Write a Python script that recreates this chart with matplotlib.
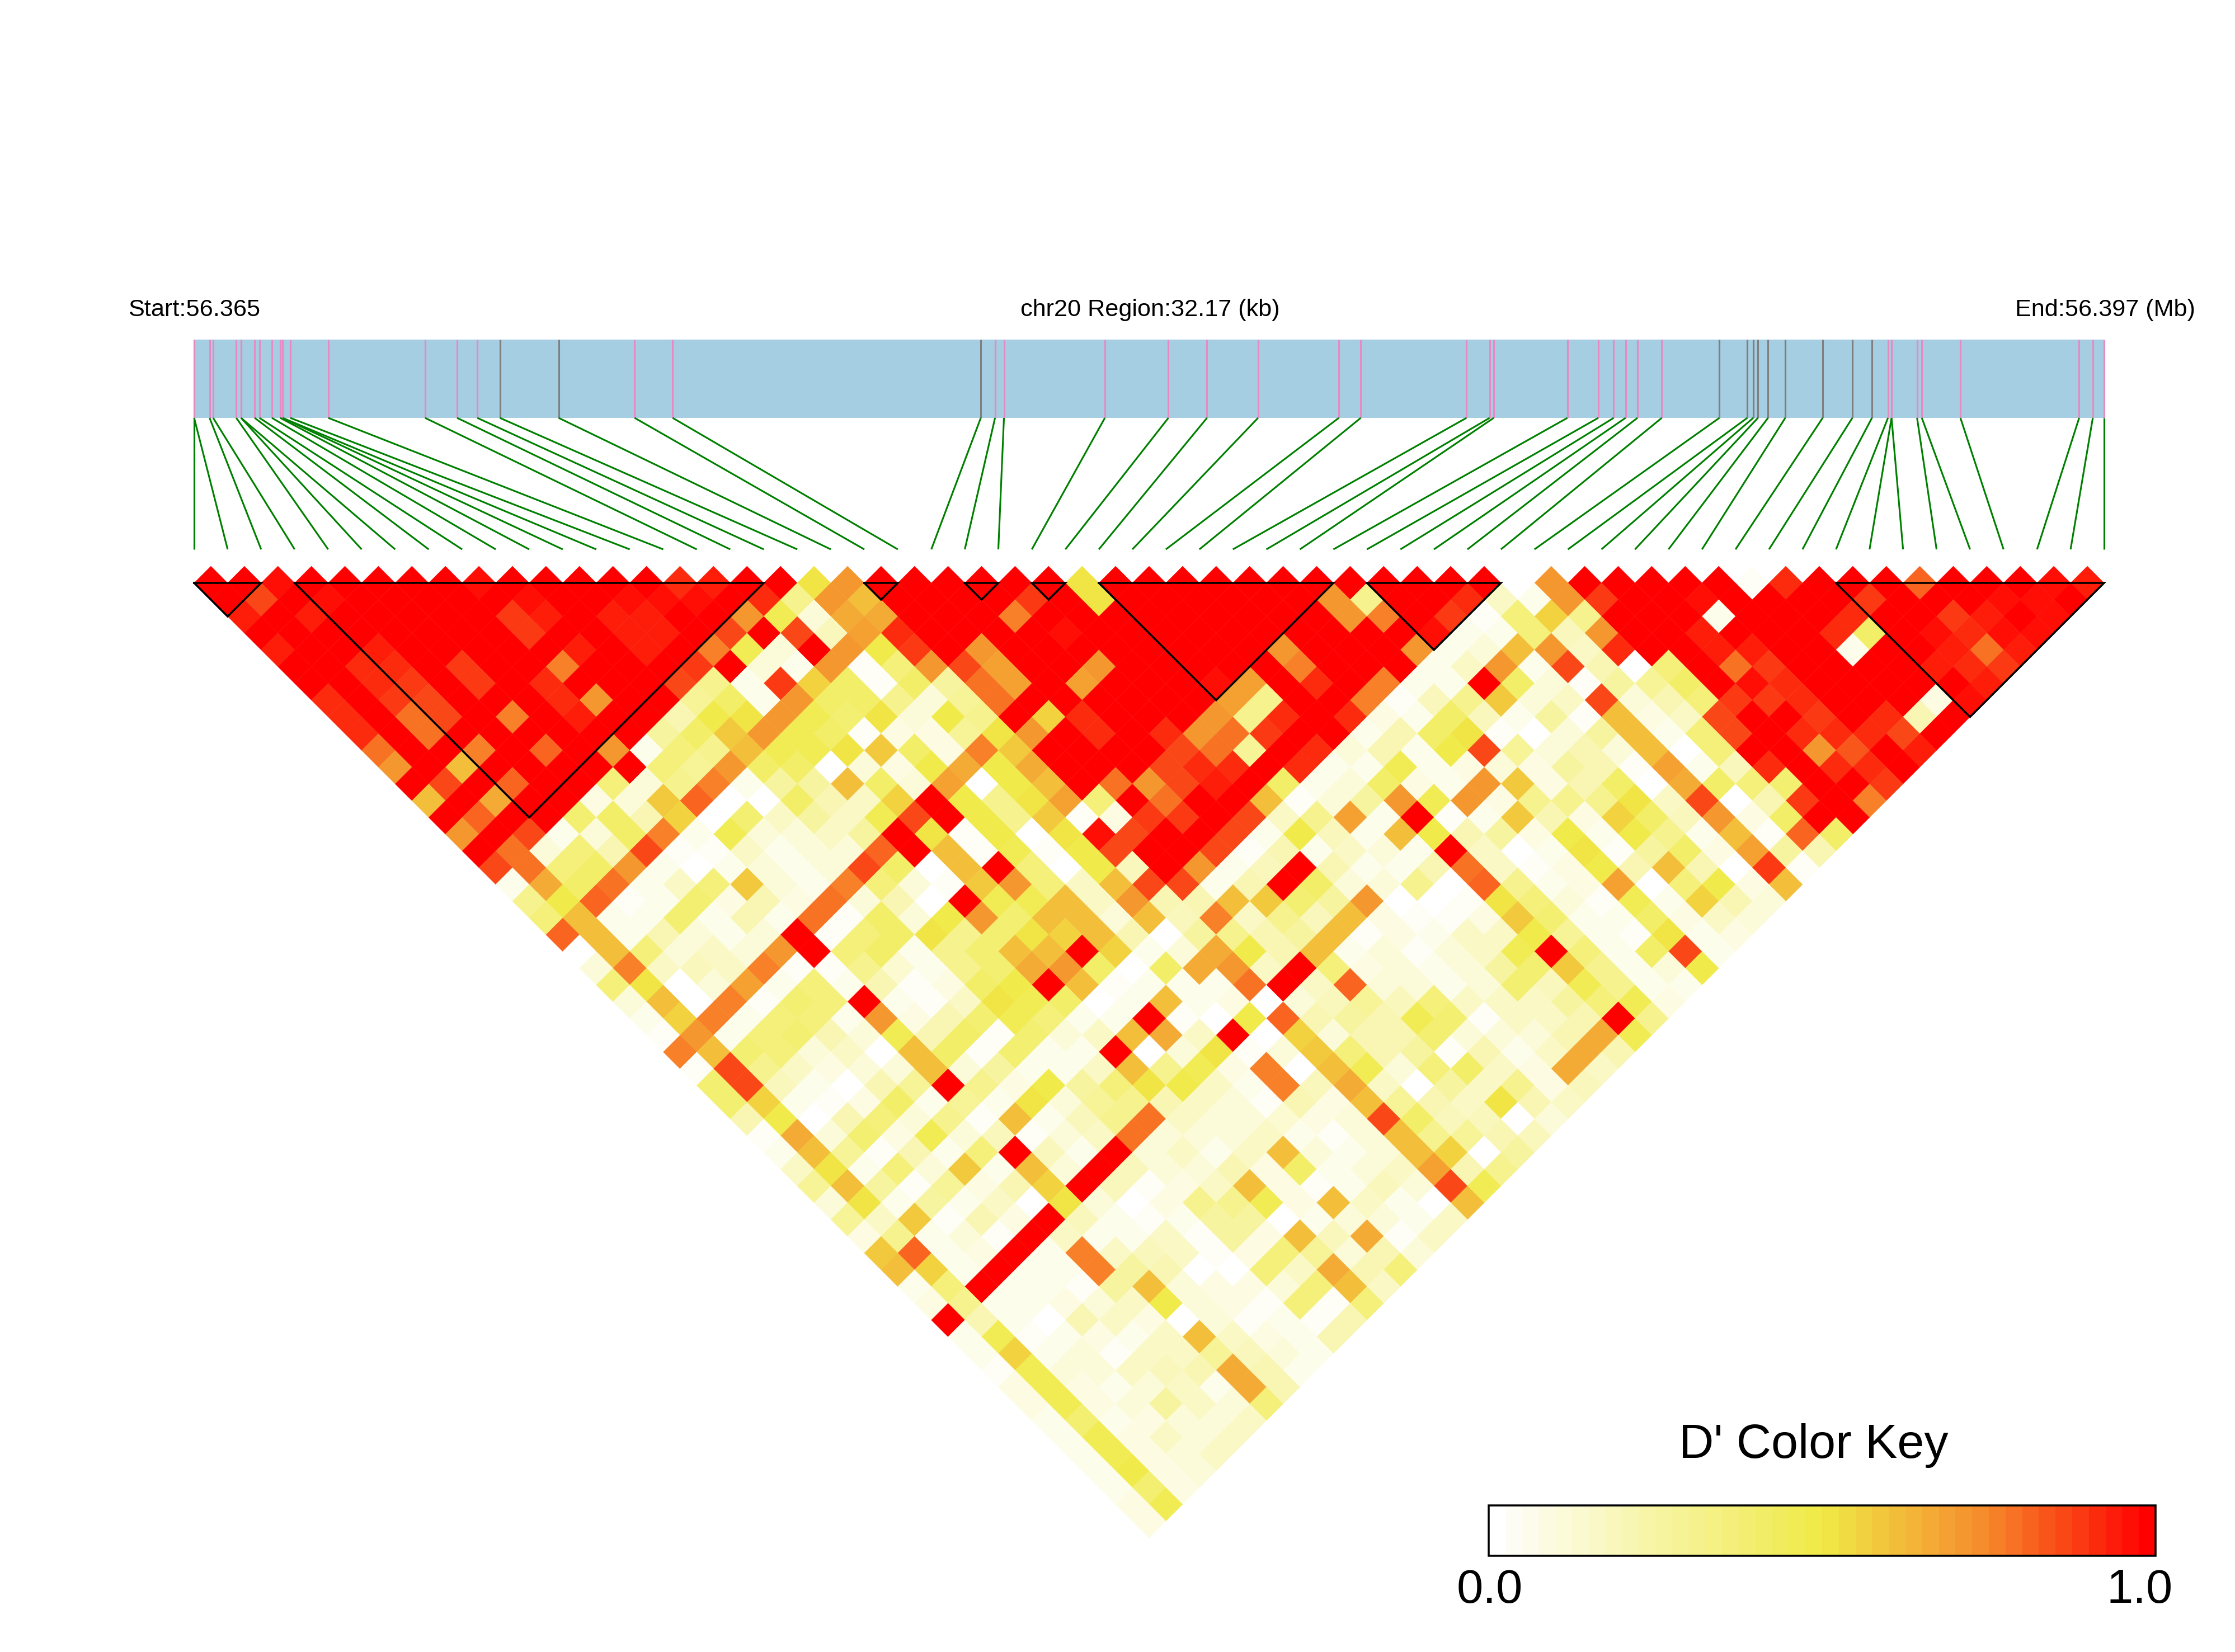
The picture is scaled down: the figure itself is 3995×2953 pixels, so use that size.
import numpy as np
import matplotlib
matplotlib.use('Agg')
import matplotlib.pyplot as plt
from matplotlib.collections import PolyCollection
from matplotlib.colors import LinearSegmentedColormap
from matplotlib.patches import Rectangle

plt.rcParams['font.family'] = ['Liberation Sans', 'DejaVu Sans']

# SNP positions in kb from the region start
snp_kb = [0,0,0.26,0.32,0.71,0.79,0.79,1.02,1.10,1.31,1.45,1.49,1.49,1.62,2.26,3.89,4.43,4.77,5.15,6.14,
	7.42,8.06,13.25,13.49,13.64,15.34,16.41,17.06,17.92,19.28,19.65,21.43,21.82,21.89,23.13,23.65,23.91,
	24.11,24.31,24.72,25.69,26.16,26.26,26.34,26.51,26.80,27.43,27.93,28.26,28.53,28.59,28.59,29.02,29.10,
	29.75,31.75,31.98,32.17]
region_kb = 32.17
gray_snps = [18,19,22,40,41,42,43,44,45,46,47,48]
blocks = [(0,2),(3,17),(20,21),(23,24),(25,26),(27,34),(35,39),(49,57)]

# D' x 100, one list per SNP distance
d01 = [100,100,96,100,100,100,100,100,96,100,100,100,100,100,90,94,100,100,50,70,100,100,100,98,100,99,50,100,100,100,100,100,100,100,100,100,100,100,100,0,70,100,100,100,100,100,4,90,100,100,100,80,100,100,100,96,94]
d02 = [100,85,100,95,100,100,100,100,100,95,100,100,95,95,97,100,92,30,72,62,100,100,100,100,88,100,50,100,100,100,100,100,100,70,30,100,100,90,15,5,72,88,100,100,95,100,100,100,100,88,100,100,100,96,96,100]
d03 = [93,100,93,100,100,100,100,100,88,94,100,94,94,100,100,72,45,10,65,65,100,100,100,75,100,100,100,100,100,100,100,100,100,72,75,100,88,3,35,55,30,100,100,100,5,100,100,100,90,100,100,88,94,100,95]
d04 = [100,100,100,100,100,100,100,100,88,100,100,94,94,100,87,100,85,18,68,92,100,100,100,100,95,100,100,100,100,100,100,100,100,100,100,95,5,5,35,18,72,100,100,93,100,100,100,90,40,100,96,92,96,96]
d05 = [93,100,100,94,100,100,100,100,100,94,100,94,100,75,45,10,100,72,48,88,100,72,100,100,100,100,100,100,100,100,72,100,100,100,72,5,10,62,70,15,92,100,100,94,93,100,100,5,100,100,94,78,94]
d06 = [100,100,90,92,100,88,100,100,75,100,100,100,88,100,10,5,72,3,35,72,85,68,100,100,72,100,100,100,100,100,75,100,100,100,5,15,72,5,85,20,0,35,100,78,88,100,100,100,100,94,90,88]
d07 = [100,100,90,88,100,88,100,92,100,100,100,86,30,5,88,55,42,3,42,25,78,68,100,68,100,100,100,95,68,100,92,100,75,5,5,100,42,10,4,25,28,42,100,95,90,100,100,100,100,100,94]
d08 = [90,100,88,85,100,100,100,92,72,100,100,28,40,7,72,42,40,30,12,28,78,100,100,100,100,100,100,68,30,100,100,75,4,18,30,58,10,15,85,12,22,35,88,88,92,100,100,100,8,96]
d09 = [90,100,78,85,100,75,100,93,100,100,22,48,52,72,45,38,52,10,48,30,100,55,92,100,100,100,72,30,92,100,92,8,5,42,18,7,25,4,62,8,15,85,100,100,88,100,92,20,100]
d10 = [90,100,78,100,100,100,100,100,100,25,42,58,70,45,42,3,8,8,28,50,70,100,92,100,92,72,78,88,100,100,5,22,42,50,3,0,12,25,60,5,35,85,100,92,92,92,85,100]
d11 = [78,100,100,75,100,82,100,72,5,35,32,62,45,45,52,58,40,8,75,58,100,100,100,100,85,78,28,100,92,10,22,7,48,85,28,12,22,12,60,0,35,100,100,72,84,100,93]
d12 = [72,100,62,100,100,100,100,100,35,28,72,42,40,0,12,8,48,65,48,65,100,100,100,85,92,92,100,92,5,5,45,5,8,12,8,25,22,4,68,7,18,90,100,92,92,100]
d13 = [100,85,100,80,100,100,35,10,32,75,5,25,25,62,42,10,68,2,48,62,100,78,72,85,93,100,40,5,12,42,8,5,72,58,8,22,42,0,66,42,35,38,100,100,88]
d14 = [62,100,66,100,100,8,12,58,80,0,0,42,22,15,55,100,48,30,50,68,35,100,78,100,100,62,3,10,25,70,45,72,8,30,30,30,50,15,85,2,20,88,100,76]
d15 = [100,80,100,100,38,42,22,55,0,38,15,25,15,45,85,100,48,30,58,3,8,88,88,100,85,15,30,68,5,100,3,5,58,20,8,55,40,18,70,8,42,100,100]
d16 = [72,100,87,5,10,40,75,5,45,10,10,15,25,100,50,3,48,0,50,95,85,100,100,85,5,48,18,5,60,48,22,25,8,48,5,48,30,5,62,4,80,40]
d17 = [100,78,10,35,20,85,3,3,15,5,10,12,82,100,62,3,45,3,48,85,100,100,85,3,22,5,15,10,5,100,15,0,5,50,3,25,42,8,68,25,22]
d18 = [85,78,35,42,72,5,0,5,12,5,10,85,42,0,62,100,35,0,48,18,100,72,5,18,100,20,5,5,22,78,15,4,8,48,20,62,22,0,88,4]
d19 = [5,65,42,78,5,15,35,58,10,5,75,35,12,3,58,70,35,15,60,85,85,5,20,100,42,10,12,30,0,80,32,5,8,68,0,35,48,8,62]
d20 = [30,48,80,4,5,38,8,22,8,78,12,20,2,100,45,45,60,15,70,22,20,60,58,38,25,72,0,2,3,50,35,10,3,45,5,55,22,10]
d21 = [35,60,5,5,38,5,20,5,78,3,42,12,48,72,38,60,62,10,62,18,75,15,32,18,62,8,3,3,8,58,38,5,5,42,8,15,10]
d22 = [82,62,5,22,12,5,12,100,3,35,40,52,30,38,50,55,62,22,0,25,30,20,25,62,3,8,5,15,15,48,28,5,3,50,5,8]
d23 = [0,62,35,10,15,12,72,100,35,42,5,30,38,62,62,100,55,5,12,65,48,20,60,5,12,3,12,15,45,100,35,5,40,85,7]
d24 = [12,75,15,18,15,76,3,3,30,14,5,30,38,65,72,40,0,40,65,72,15,100,35,8,10,5,10,25,38,58,30,5,10,48]
d25 = [35,52,2,12,68,5,35,5,20,3,8,42,48,100,60,3,5,5,5,78,100,15,80,10,10,5,12,38,18,45,30,5,5]
d26 = [12,62,2,75,3,38,35,100,5,3,15,50,45,42,2,5,62,5,8,0,10,18,28,18,35,15,15,15,25,35,45,8]
d27 = [5,55,75,5,35,35,5,72,8,20,38,45,35,5,5,100,3,0,48,80,20,25,20,45,38,3,15,15,22,100,30]
d28 = [3,72,5,35,38,22,12,45,22,42,3,38,10,15,60,65,15,100,2,55,10,20,20,38,10,10,10,20,65,45]
d29 = [75,60,38,35,10,15,0,62,40,3,38,5,7,100,0,10,50,3,12,58,35,20,25,3,22,5,15,65,20]
d30 = [3,85,32,15,8,12,12,60,10,25,5,5,15,62,30,45,8,75,0,60,45,10,35,42,15,8,65,15]
d31 = [38,85,18,5,0,22,28,100,30,8,48,25,35,50,48,15,5,75,18,65,15,0,25,15,30,8,18]
d32 = [38,55,5,3,8,42,5,28,5,52,10,28,30,20,15,12,3,22,8,60,28,22,15,50,22,15]
d33 = [22,48,0,22,35,10,30,3,62,5,18,32,78,15,12,12,14,8,10,85,40,18,18,0,10]
d34 = [3,65,12,38,8,45,12,18,3,12,15,78,12,12,12,15,5,3,12,62,30,28,22,18]
d35 = [5,62,28,3,22,5,35,100,18,5,100,12,15,5,15,62,12,5,10,60,55,0,25]
d36 = [15,52,5,35,12,58,5,62,12,100,18,12,10,22,8,42,5,12,15,68,22,32]
d37 = [28,62,25,3,28,8,22,55,100,18,3,8,15,62,8,3,5,18,10,85,45]
d38 = [12,52,5,25,5,15,0,50,10,0,8,30,30,45,8,60,15,5,0,62]
d39 = [28,15,58,3,20,8,100,18,5,3,5,25,25,0,5,12,10,5,15]
d40 = [8,30,5,12,3,100,15,5,5,15,3,25,8,62,18,65,3,15]
d41 = [58,82,5,8,100,5,75,15,18,15,3,8,35,28,10,20,10]
d42 = [60,55,5,100,5,5,75,25,22,0,2,35,15,65,22,35]
d43 = [5,35,100,5,5,3,25,62,12,8,8,12,35,62,15]
d44 = [8,30,5,5,8,10,15,48,12,8,3,35,3,35]
d45 = [100,22,5,0,22,15,8,2,12,3,5,3,22]
d46 = [5,46,3,5,8,5,15,60,15,8,5,22]
d47 = [5,55,5,12,3,15,15,28,18,10,5]
d48 = [3,46,10,12,15,18,22,65,20,5]
d49 = [8,46,8,5,10,15,5,65,20]
d50 = [8,46,8,12,25,15,10,35]
d51 = [5,38,5,8,10,10,15]
d52 = [5,46,8,15,10,15]
d53 = [5,46,8,10,15]
d54 = [5,48,8,10]
d55 = [5,38,8]
d56 = [8,46]
d57 = [8]
rows = [d01,d02,d03,d04,d05,d06,d07,d08,d09,d10,d11,d12,d13,d14,d15,d16,d17,d18,d19,d20,
	d21,d22,d23,d24,d25,d26,d27,d28,d29,d30,d31,d32,d33,d34,d35,d36,d37,d38,d39,d40,
	d41,d42,d43,d44,d45,d46,d47,d48,d49,d50,d51,d52,d53,d54,d55,d56,d57]
for k, r in enumerate(rows):
	assert len(r) == 57 - k, (k + 1, len(r))

W, H = 3995, 2953
X0, X1 = 347, 3761
STEP = (X1 - X0) / 57.0
HALF = STEP / 2.0
Y_TOP = 1042

cmap = LinearSegmentedColormap.from_list('ld', [(0, '#FFFFFF'), (0.5, '#F0EA46'), (0.75, '#F68B2C'), (1, '#FF0000')], N=40)

fig = plt.figure(figsize=(W / 300.0, H / 300.0), dpi=300)
ax = fig.add_axes([0, 0, 1, 1])
ax.set_xlim(0, W)
ax.set_ylim(H, 0)
ax.axis('off')

# heatmap diamonds
polys = []
vals = []
for k, r in enumerate(rows):
	dist = k + 1
	for i, v in enumerate(r):
		cx = X0 + STEP * (i + dist / 2.0)
		cy = Y_TOP + HALF * (dist - 1)
		polys.append([(cx - HALF, cy), (cx, cy - HALF), (cx + HALF, cy), (cx, cy + HALF)])
		vals.append(v / 100.0)
pc = PolyCollection(polys, array=np.array(vals), cmap=cmap, edgecolors='face', linewidths=0.1)
pc.set_clim(0, 1)
ax.add_collection(pc)

# haplotype blocks
for a, b in blocks:
	xa = X0 + STEP * a
	xb = X0 + STEP * b
	ax.plot([xa, xb, (xa + xb) / 2.0, xa], [Y_TOP, Y_TOP, Y_TOP + (xb - xa) / 2.0, Y_TOP], color='black', lw=0.85, solid_joinstyle='miter')

# gene bar with SNP ticks and links to the heatmap
ax.add_patch(Rectangle((X0, 607), X1 - X0, 140, facecolor='#A6CEE3', edgecolor='none'))
for n, kb in enumerate(snp_kb):
	x = X0 + (X1 - X0) * kb / region_kb
	col = '#7F7F7F' if n in gray_snps else '#E78AC3'
	ax.plot([x, x], [607, 747], color=col, lw=0.75, solid_capstyle='butt')
	ax.plot([x, X0 + STEP * n], [747, 982], color='green', lw=0.75, solid_capstyle='butt')

ax.text(229, 554, 'Start:56.365', fontsize=10.4, ha='left', va='center')
ax.text(2056, 554, 'chr20 Region:32.17 (kb)', fontsize=10.4, ha='center', va='center')
ax.text(3924, 554, 'End:56.397 (Mb)', fontsize=10.4, ha='right', va='center')

# colour key
key = np.linspace(0, 1, 40).reshape(1, -1)
ax.imshow(key, cmap=cmap, vmin=0, vmax=1, aspect='auto', extent=(2661, 3853, 2781, 2691), interpolation='nearest')
ax.add_patch(Rectangle((2661, 2691), 1192, 90, fill=False, edgecolor='black', lw=0.85))
ax.set_xlim(0, W)
ax.set_ylim(H, 0)
ax.text(3242, 2584, "D' Color Key", fontsize=20.7, ha='center', va='center')
ax.text(2663, 2843, '0.0', fontsize=20.4, ha='center', va='center')
ax.text(3825, 2843, '1.0', fontsize=20.4, ha='center', va='center')

fig.savefig('out.png', dpi=300, facecolor='white')
